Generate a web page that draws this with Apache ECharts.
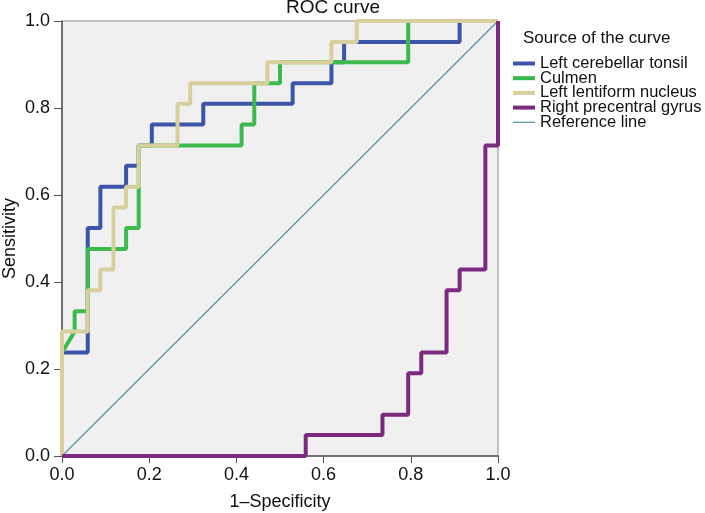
<!DOCTYPE html>
<html><head><meta charset="utf-8">
<script src="https://cdn.jsdelivr.net/npm/echarts@6/dist/echarts.min.js"></script>
<style>html,body{margin:0;padding:0;background:#fff}#c{width:705px;height:513px}</style>
</head><body><div id="c"></div>
<script>
// ROC coordinates (1-Specificity, Sensitivity)
var tonsilX = [0,0,0.059,0.059,0.088,0.088,0.147,0.147,0.176,0.176,0.206,0.206,0.324,0.324,0.529,0.529,0.618,0.618,0.647,0.647,0.912,0.912,1];
var tonsilY = [0,0.238,0.238,0.524,0.524,0.619,0.619,0.667,0.667,0.714,0.714,0.762,0.762,0.810,0.810,0.857,0.857,0.905,0.905,0.952,0.952,1,1];
var culmenX = [0,0,0.029,0.029,0.059,0.059,0.147,0.147,0.176,0.176,0.412,0.412,0.441,0.441,0.5,0.5,0.794,0.794,1];
var culmenY = [0,0.238,0.286,0.333,0.333,0.476,0.476,0.524,0.524,0.714,0.714,0.762,0.762,0.857,0.857,0.905,0.905,1,1];
var lentiX = [0,0,0.059,0.059,0.088,0.088,0.118,0.118,0.147,0.147,0.176,0.176,0.265,0.265,0.294,0.294,0.471,0.471,0.618,0.618,0.676,0.676,1];
var lentiY = [0,0.286,0.286,0.381,0.381,0.429,0.429,0.571,0.571,0.619,0.619,0.714,0.714,0.810,0.810,0.857,0.857,0.905,0.905,0.952,0.952,1,1];
var precX = [0,0.559,0.559,0.735,0.735,0.794,0.794,0.824,0.824,0.882,0.882,0.912,0.912,0.971,0.971,1,1];
var precY = [0,0,0.048,0.048,0.095,0.095,0.190,0.190,0.238,0.238,0.381,0.381,0.429,0.429,0.714,0.714,1];
var refX = [0,1];
var refY = [0,1];
var names = ['Left cerebellar tonsil','Culmen','Left lentiform nucleus','Right precentral gyrus','Reference line'];

function pairs(xs, ys){ return xs.map(function(x,i){return [x, ys[i]];}); }
var FONT = '"Liberation Sans", Arial, sans-serif';
var chart = echarts.init(document.getElementById('c'), null, {renderer:'canvas'});
function ser(name, xs, ys, color, w){
  return {name:name, type:'line', data:pairs(xs,ys), symbol:'none', clip:false,
    lineStyle:{color:color, width:w}, itemStyle:{color:color}, animation:false, z:2};
}
var thinIcon = 'path://M0,0M0,1.35L22,1.35L22,2.65L0,2.65ZM22,4';
chart.setOption({
  animation:false,
  backgroundColor:'#fff',
  title:{text:'ROC curve', left:286, top:-2, padding:0, textStyle:{fontFamily:FONT, fontSize:19, fontWeight:'normal', color:'#111'}},
  graphic:[{type:'text', left:523, top:30, style:{text:'Source of the curve', font:'17px '+FONT, fill:'#111'}}],
  legend:{orient:'vertical', left:513, top:55, itemWidth:22, itemHeight:4, itemGap:-2.3, padding:0, icon:'rect',
    data:[names[0],names[1],names[2],names[3],{name:names[4], icon:thinIcon}],
    textStyle:{fontFamily:FONT, fontSize:16.5, color:'#111'}},
  grid:{left:62, right:207, top:21, bottom:57, outerBoundsMode:'none', show:true, backgroundColor:'#f0f0f0', borderColor:'#8a8a8a', borderWidth:1, containLabel:false},
  xAxis:{type:'value', min:0, max:1, interval:0.2, name:'1\u2013Specificity', nameLocation:'middle', nameGap:37, nameMoveOverlap:false,
    nameTextStyle:{fontFamily:FONT, fontSize:18, color:'#111'},
    axisLine:{show:true, lineStyle:{color:'#555', width:1.5}}, axisTick:{show:true, length:7, lineStyle:{color:'#555'}},
    axisLabel:{fontFamily:FONT, fontSize:18, color:'#111', margin:10, formatter:function(v){return v.toFixed(1);}},
    splitLine:{show:false}},
  yAxis:{type:'value', min:0, max:1, interval:0.2, name:'Sensitivity', nameLocation:'middle', nameGap:43, nameMoveOverlap:false,
    nameTextStyle:{fontFamily:FONT, fontSize:18, color:'#111'},
    axisLine:{show:true, lineStyle:{color:'#555', width:1.5}}, axisTick:{show:true, length:8, lineStyle:{color:'#555'}},
    axisLabel:{fontFamily:FONT, fontSize:18, color:'#111', margin:12, formatter:function(v){return v.toFixed(1);}},
    splitLine:{show:false}},
  series:[
    ser(names[4], refX, refY, '#5a97a5', 1.3),
    ser(names[0], tonsilX, tonsilY, '#3d55a8', 4),
    ser(names[1], culmenX, culmenY, '#3dba4c', 4),
    ser(names[2], lentiX, lentiY, '#d8d09c', 4),
    ser(names[3], precX, precY, '#7b2a80', 4)
  ]
});
</script></body></html>
